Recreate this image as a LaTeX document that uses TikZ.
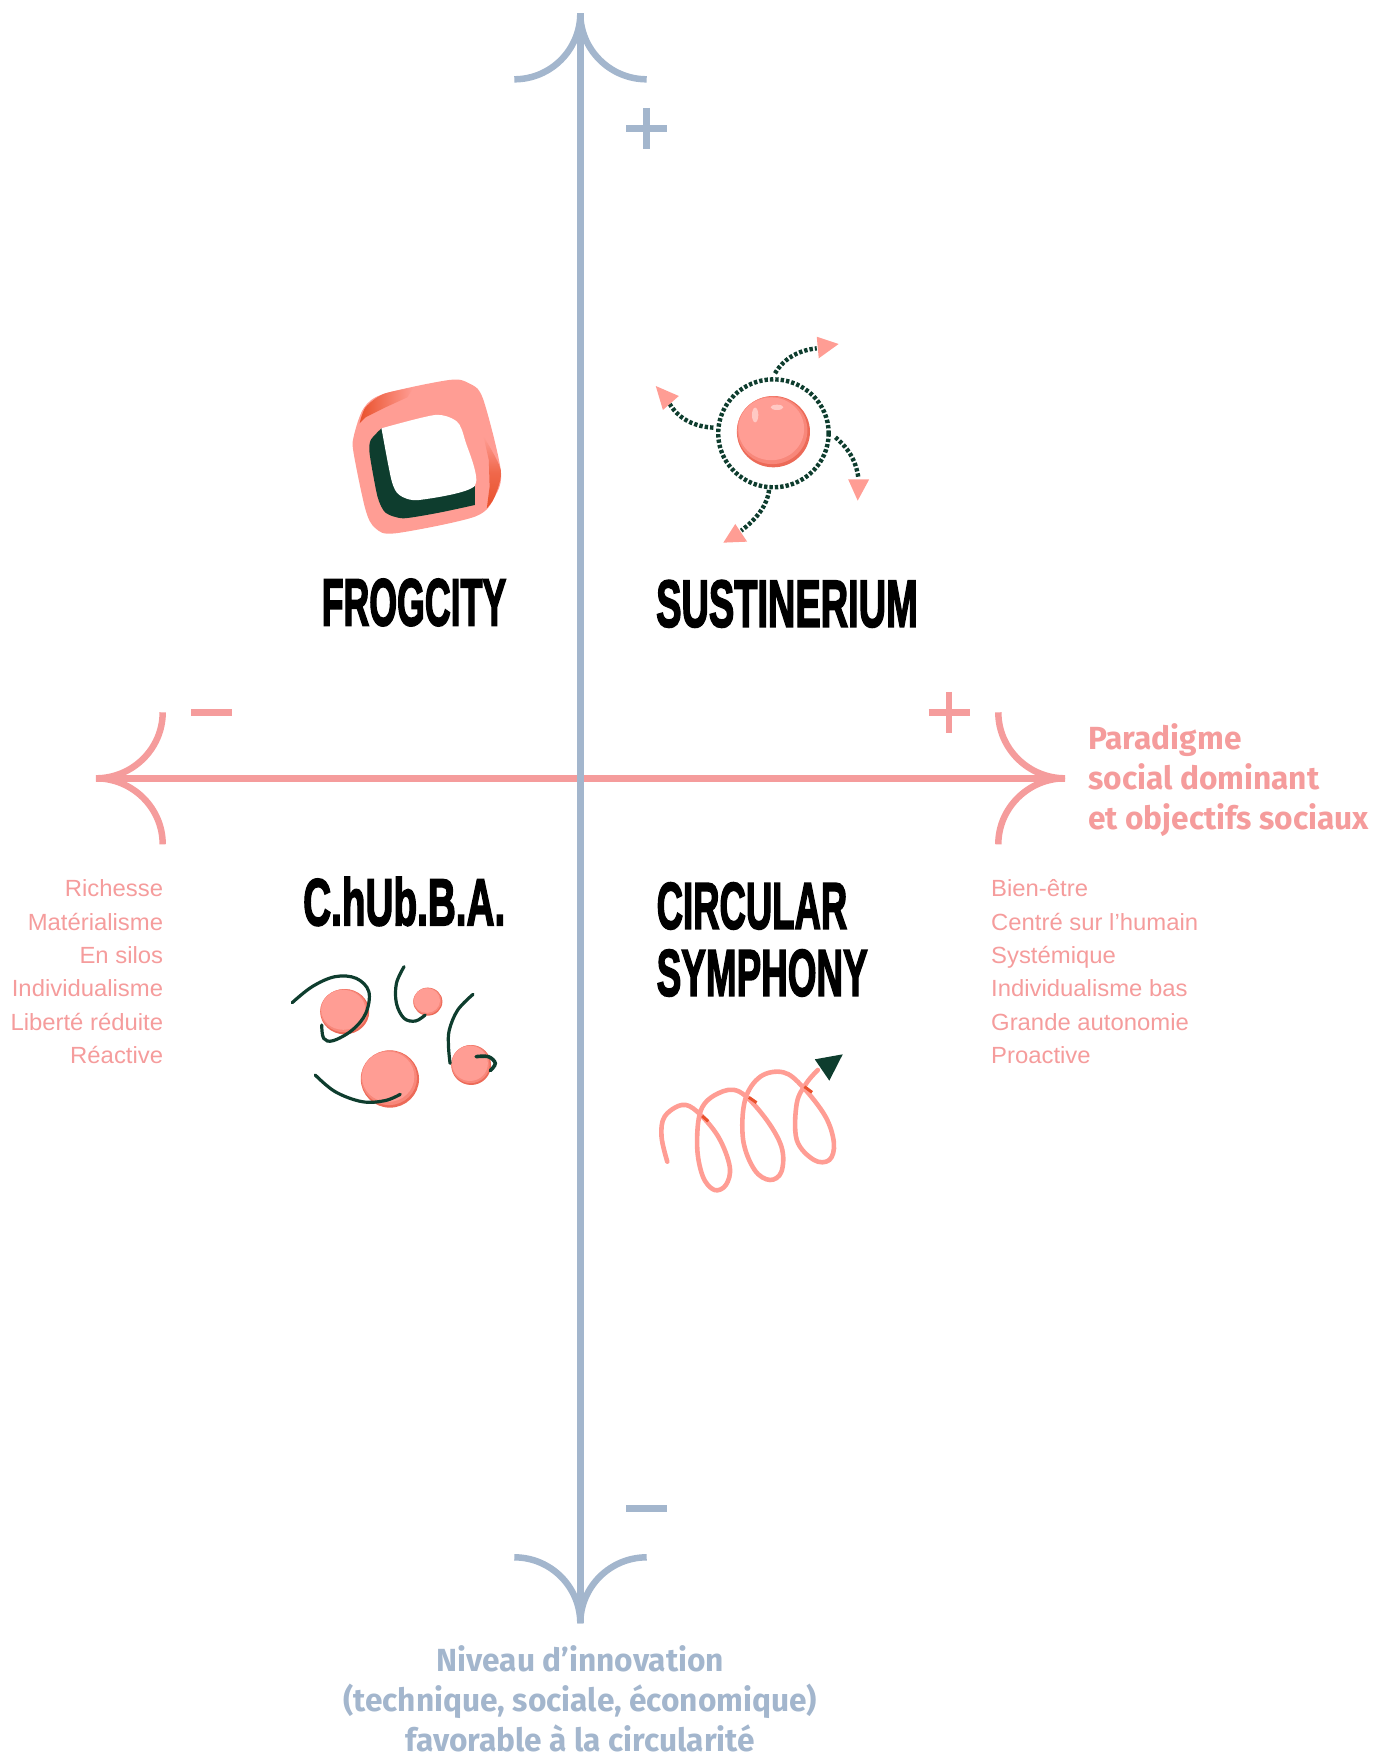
\documentclass[tikz,border=0pt]{standalone}
\usepackage{fontspec}
\usepackage{graphicx}
\setmainfont{Liberation Sans}
\newfontfamily\titlefont[FakeBold=3]{Liberation Sans}
\newfontfamily\headfont[FakeStretch=0.99]{Fira Sans}
\newfontfamily\listfont[FakeStretch=1.02]{Liberation Sans}
\definecolor{pinkline}{HTML}{F59C9C}
\definecolor{blueline}{HTML}{A3B6CD}
\definecolor{dgreen}{HTML}{0E3D2E}
\definecolor{salmon}{HTML}{FF9D94}
\definecolor{midsalmon}{HTML}{F8877A}
\definecolor{deepsalmon}{HTML}{EC6A58}
\definecolor{redor}{HTML}{E9512C}
\tikzset{
  pinkaxis/.style={draw=pinkline,line width=6.5pt},
  blueaxis/.style={draw=blueline,line width=6.5pt},
  listitem/.style={font=\listfont\fontsize{23.4pt}{28pt}\selectfont,text=pinkline,inner sep=0pt},
  heada/.style={font=\headfont\bfseries\fontsize{32pt}{38pt}\selectfont,inner sep=0pt},
  titletext/.style={inner sep=0pt,anchor=south west,text=black},
  dotline/.style={draw=dgreen,line width=4.4pt,dash pattern=on 3.4pt off 2pt},
  orbit/.style={draw=dgreen,line width=3.2pt,line cap=round},
  tip/.style={fill=salmon},
}
\newcommand{\ttl}[3]{\resizebox{#1pt}{#2pt}{\titlefont\bfseries #3}}
\newcommand{\ball}[4]{%
  \fill[deepsalmon] (#1,#2) ellipse [x radius=#3,y radius=#4];
  \fill[midsalmon] ({#1-0.03*#3},{#2-0.04*#4}) ellipse [x radius=0.96*#3,y radius=0.95*#4];
  \fill[salmon] ({#1-0.06*#3},{#2-0.08*#4}) ellipse [x radius=0.9*#3,y radius=0.88*#4];
}
\begin{document}
\begin{tikzpicture}[x=1pt,y=-1pt]
\useasboundingbox (0,0) rectangle (1377,1757);
% axes
\coordinate (hl) at (96,778.3);
\coordinate (hr) at (1065,778.3);
\coordinate (vt) at (580.3,13.3);
\coordinate (vb) at (580.3,1623.3);
\draw[pinkaxis] (hl) -- (hr);
\draw[pinkaxis] (162.7,712.3) .. controls (162.7,748.75) and (132.5,778.3) .. (hl);
\draw[pinkaxis] (162.7,844.3) .. controls (162.7,807.85) and (132.5,778.3) .. (hl);
\draw[pinkaxis] (998.3,712.3) .. controls (998.3,748.75) and (1028.5,778.3) .. (hr);
\draw[pinkaxis] (998.3,844.3) .. controls (998.3,807.85) and (1028.5,778.3) .. (hr);
\draw[blueaxis] (vt) -- (vb);
\draw[blueaxis] (514.3,79.3) .. controls (550.75,79.3) and (580.3,49.75) .. (vt);
\draw[blueaxis] (646.7,79.3) .. controls (610.25,79.3) and (580.3,49.75) .. (vt);
\draw[blueaxis] (514.3,1557.3) .. controls (550.75,1557.3) and (580.3,1586.85) .. (vb);
\draw[blueaxis] (646.7,1557.3) .. controls (610.25,1557.3) and (580.3,1586.85) .. (vb);
% plus / minus
\draw[blueaxis] (626.2,128.3) -- (667.2,128.3) (646.7,107.8) -- (646.7,148.8);
\draw[blueaxis] (626,1508.3) -- (667,1508.3);
\draw[pinkaxis] (191,712.3) -- (232,712.3);
\draw[pinkaxis] (928.5,712.3) -- (969.5,712.3) (949,691.8) -- (949,732.8);
% axis labels
\node[heada,text=pinkline,anchor=base west] (p1) at (1088,749) {Paradigme};
\node[heada,text=pinkline,anchor=base west] (p2) at (1088,789) {social dominant};
\node[heada,text=pinkline,anchor=base west] (p3) at (1088,829) {et objectifs sociaux};
\node[heada,text=blueline,anchor=base] (n1) at (580.3,1671.7) {Niveau d’innovation};
\node[heada,text=blueline,anchor=base] (n2) at (580.3,1711.7) {(technique, sociale, économique)};
\node[heada,text=blueline,anchor=base] (n3) at (580.3,1751.7) {favorable à la circularité};
% lists
\node[listitem,anchor=base east] (l1) at (163.3,896.7) {Richesse};
\node[listitem,anchor=base east] (l2) at (163.3,930) {Matérialisme};
\node[listitem,anchor=base east] (l3) at (163.3,963.3) {En silos};
\node[listitem,anchor=base east] (l4) at (163.3,996.7) {Individualisme};
\node[listitem,anchor=base east] (l5) at (163.3,1030) {Liberté réduite};
\node[listitem,anchor=base east] (l6) at (163.3,1063.3) {Réactive};
\node[listitem,anchor=base west] (r1) at (991,896.7) {Bien-être};
\node[listitem,anchor=base west] (r2) at (991,930) {Centré sur l’humain};
\node[listitem,anchor=base west] (r3) at (991,963.3) {Systémique};
\node[listitem,anchor=base west] (r4) at (991,996.7) {Individualisme bas};
\node[listitem,anchor=base west] (r5) at (991,1030) {Grande autonomie};
\node[listitem,anchor=base west] (r6) at (991,1063.3) {Proactive};
% titles
\node[titletext] (frog) at (321.5,626.2) {\ttl{184.5}{46.4}{FROGCITY}};
\node[titletext] (sust) at (656,627.5) {\ttl{261.5}{46.4}{SUSTINERIUM}};
\node[titletext] (chub) at (303,926) {\ttl{202}{48}{C.hUb.B.A.}};
\node[titletext] (circ) at (656.5,929.5) {\ttl{190.5}{46}{CIRCULAR}};
\node[titletext] (symp) at (656.5,996.5) {\ttl{211}{46}{SYMPHONY}};
% Frogcity icon, zoom coordinates
\begin{scope}[shift={(300,320)},x=0.3975pt,y=-0.3333pt]
  \fill[salmon] plot[smooth cycle,tension=0.5] coordinates {(135,350)(160,265)(210,222)(375,180)(425,190)(460,235)(505,450)(490,530)(440,590)(240,640)(190,625)(165,570)(135,400)};
  \shade[left color=redor,right color=salmon] plot[smooth,tension=0.5] coordinates {(150,310)(165,262)(210,222)(285,203)} -- (270,232) -- (215,262) -- (165,292) -- cycle;
  \shade[top color=salmon,bottom color=redor,middle color=redor!70!salmon] plot[smooth,tension=0.5] coordinates {(462,350)(505,450)(490,530)(470,565)} -- (477,500) -- (475,420) -- cycle;
  \fill[dgreen] plot[smooth,tension=0.4] coordinates {(205,325)(178,360)(175,400)(195,530)(215,578)(260,595)(350,578)(440,555)} -- (440,480) -- (300,400) -- cycle;
  \fill[white] plot[smooth,tension=0.45] coordinates {(205,325)(340,285)(395,305)(415,360)(440,497)(300,540)(250,525)(230,480)(205,325)} -- cycle;
\end{scope}
% Sustinerium icon, zoom coordinates
\begin{scope}[shift={(298,320)},x=0.3975pt,y=-0.3333pt]
  \ball{1196}{335}{92}{107}
  \fill[white,opacity=0.45] (1150,285) ellipse [x radius=8,y radius=22];
  \fill[white,opacity=0.45] (1205,262) ellipse [x radius=16,y radius=8];
  \draw[dotline] (1196,340) ellipse [x radius=139,y radius=162];
  \draw[dotline] (1200,160) .. controls (1225,110) and (1265,90) .. (1305,85);
  \draw[dotline] (1045,323) .. controls (1000,320) and (960,300) .. (935,252);
  \draw[dotline] (1352,352) .. controls (1390,390) and (1405,430) .. (1410,475);
  \draw[dotline] (1185,510) .. controls (1180,560) and (1150,600) .. (1115,632);
  \fill[tip] (1305,50) -- (1360,72) -- (1310,115) -- cycle;
  \fill[tip] (900,198) -- (958,228) -- (918,270) -- cycle;
  \fill[tip] (1384,478) -- (1437,478) -- (1408,542) -- cycle;
  \fill[tip] (1100,612) -- (1130,665) -- (1070,668) -- cycle;
\end{scope}
% C.hUb.B.A. and Circular Symphony icons, zoom coordinates
\begin{scope}[shift={(270,860)},x=0.3831pt,y=-0.3333pt]
  \ball{195}{455}{64}{68}
  \ball{412}{425}{38}{42}
  \ball{313}{657}{76}{86}
  \ball{525}{615}{52}{60}
  \draw[orbit] plot[smooth,tension=0.6] coordinates {(58,428)(110,380)(170,350)(225,355)(258,395)(250,460)(215,510)(165,542)(140,535)(135,495)};
  \draw[orbit] plot[smooth,tension=0.6] coordinates {(350,320)(330,370)(330,430)(350,475)(380,483)(405,465)};
  \draw[orbit] plot[smooth,tension=0.6] coordinates {(530,403)(490,450)(468,510)(466,560)(470,610)};
  \draw[orbit,line width=3.6pt] plot[smooth,tension=0.6] coordinates {(538,590)(570,590)(588,610)(575,632)};
  \draw[orbit] plot[smooth,tension=0.6] coordinates {(118,645)(170,695)(240,725)(300,722)(340,703)};
  \draw[draw=salmon,line width=4.6pt,line cap=round] plot[smooth,tension=0.6] coordinates {(1037,905)(1022,830)(1030,770)(1075,735)(1115,755)(1170,830)(1200,920)(1190,975)(1160,990)(1130,950)(1115,860)(1125,750)(1170,700)(1225,695)(1290,770)(1335,860)(1335,935)(1305,960)(1265,930)(1235,840)(1240,720)(1280,650)(1340,637)(1390,680)(1450,770)(1472,850)(1460,900)(1420,900)(1375,840)(1375,730)(1400,670)(1430,630)};
  \draw[draw=redor,line width=3pt] (1128,768) -- (1144,784);
  \draw[draw=redor,line width=3pt] (1250,712) -- (1270,728);
  \draw[draw=redor,line width=3pt] (1395,680) -- (1415,697);
  \fill[dgreen] (1422,598) -- (1495,583) -- (1460,662) -- cycle;
\end{scope}
\end{tikzpicture}
\end{document}
